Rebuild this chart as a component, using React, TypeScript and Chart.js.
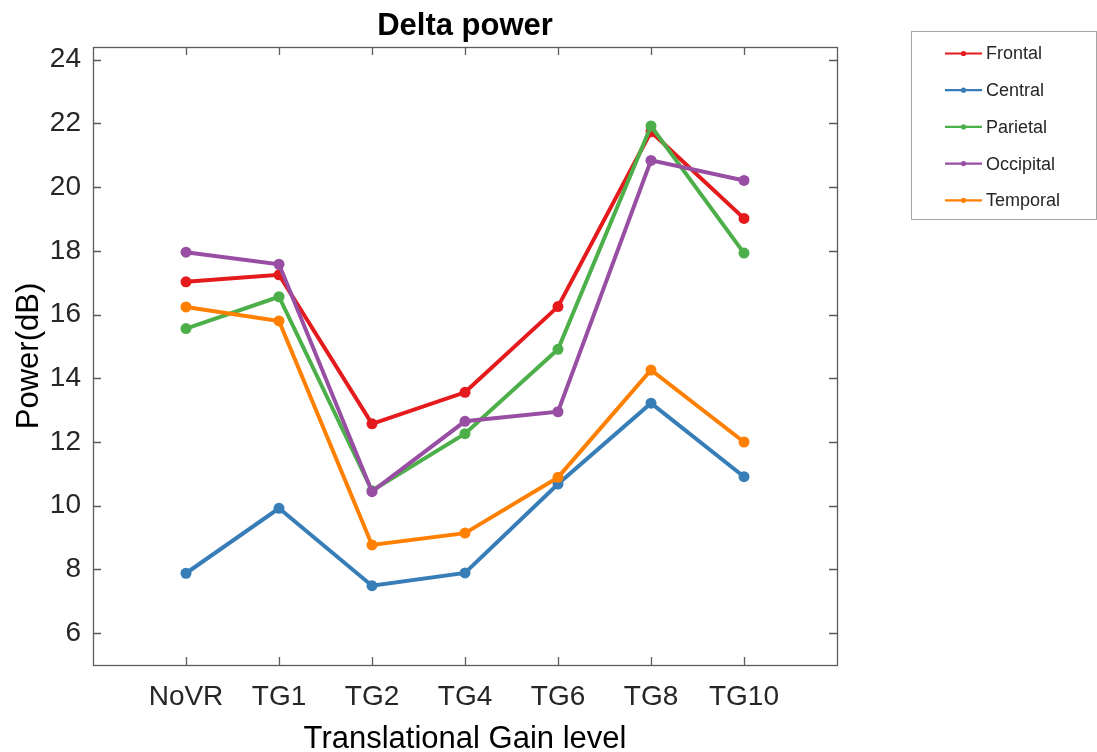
import { useEffect, useRef } from 'react';
import { Chart, registerables } from 'chart.js';

Chart.register(...registerables);

// Gain conditions along the x axis
const gainLevels = ['NoVR', 'TG1', 'TG2', 'TG4', 'TG6', 'TG8', 'TG10'];

// Mean delta-band power (dB) per scalp region
const frontal = [17.03, 17.25, 12.57, 13.56, 16.25, 21.74, 19.02];
const central = [7.88, 9.92, 7.49, 7.89, 10.68, 13.22, 10.91];
const parietal = [15.56, 16.56, 10.47, 12.26, 14.91, 21.92, 17.93];
const occipital = [17.96, 17.58, 10.44, 12.65, 12.95, 20.84, 20.21];
const temporal = [16.24, 15.8, 8.77, 9.14, 10.89, 14.26, 12.0];

const regionNames = ['Frontal', 'Central', 'Parietal', 'Occipital', 'Temporal'];
const regionSeries = [frontal, central, parietal, occipital, temporal];
const regionColors = ['#E41A1C', '#377EB8', '#4DAF4A', '#984EA3', '#FF7F00'];

const yTicks = [6, 8, 10, 12, 14, 16, 18, 20, 22, 24];

const FONT = '"Liberation Sans", Arial, Helvetica, sans-serif';
const TEXT = '#262626';
const AXIS = '#5c5c5c';

// Boxed axes with inward ticks on all four sides, title and legend panel
const matlabFrame = {
  id: 'matlabFrame',
  afterDraw(chart: any) {
    const { ctx, chartArea: a, scales } = chart;
    const xs = scales.x;
    const ys = scales.y;
    const tick = 8;
    ctx.save();
    ctx.strokeStyle = AXIS;
    ctx.lineWidth = 1.3;
    ctx.strokeRect(a.left + 0.5, a.top + 0.5, a.right - a.left, a.bottom - a.top);
    ctx.beginPath();
    gainLevels.forEach((_, i) => {
      const px = Math.round(xs.getPixelForValue(i)) + 0.5;
      ctx.moveTo(px, a.bottom);
      ctx.lineTo(px, a.bottom - tick);
      ctx.moveTo(px, a.top);
      ctx.lineTo(px, a.top + tick);
    });
    yTicks.forEach((v) => {
      const py = Math.round(ys.getPixelForValue(v)) + 0.5;
      ctx.moveTo(a.left, py);
      ctx.lineTo(a.left + tick, py);
      ctx.moveTo(a.right, py);
      ctx.lineTo(a.right - tick, py);
    });
    ctx.stroke();

    // Title
    ctx.fillStyle = '#000';
    ctx.font = `bold 31px ${FONT}`;
    ctx.textAlign = 'center';
    ctx.textBaseline = 'alphabetic';
    ctx.fillText('Delta power', (a.left + a.right) / 2, 35);

    // Legend panel
    const lx = 911.5;
    const ly = 31.5;
    ctx.strokeStyle = '#a6a6a6';
    ctx.lineWidth = 1;
    ctx.fillStyle = '#fff';
    ctx.fillRect(lx, ly, 185, 188);
    ctx.strokeRect(lx, ly, 185, 188);
    ctx.font = `18px ${FONT}`;
    ctx.textAlign = 'left';
    ctx.textBaseline = 'middle';
    regionNames.forEach((name, i) => {
      const ry = 53.5 + i * 36.7;
      ctx.strokeStyle = regionColors[i];
      ctx.lineWidth = 2.2;
      ctx.beginPath();
      ctx.moveTo(945, ry);
      ctx.lineTo(982, ry);
      ctx.stroke();
      ctx.fillStyle = regionColors[i];
      ctx.beginPath();
      ctx.arc(963.5, ry, 2.6, 0, Math.PI * 2);
      ctx.fill();
      ctx.fillStyle = TEXT;
      ctx.fillText(name, 986, ry + 1);
    });
    ctx.restore();
  },
};

export default function App() {
  const canvasRef = useRef<HTMLCanvasElement | null>(null);

  useEffect(() => {
    const canvas = canvasRef.current;
    if (!canvas) return;
    const chart = new Chart(canvas, {
      type: 'line',
      data: {
        datasets: regionNames.map((name, k) => ({
          label: name,
          data: regionSeries[k].map((v, i) => ({ x: i, y: v })),
          borderColor: regionColors[k],
          backgroundColor: regionColors[k],
          pointBackgroundColor: regionColors[k],
          pointBorderWidth: 0,
          pointRadius: 5.5,
          borderWidth: 4,
          tension: 0,
          fill: false,
          order: regionNames.length - k,
        })),
      },
      options: {
        responsive: false,
        animation: false,
        devicePixelRatio: 1,
        layout: { padding: { left: 0, top: 47, right: 260, bottom: 0 } },
        plugins: {
          legend: { display: false },
          title: { display: false },
          tooltip: { enabled: false },
        },
        scales: {
          x: {
            type: 'linear',
            min: -1,
            max: 7,
            grid: { display: false, drawTicks: false },
            border: { display: false },
            afterBuildTicks: (scale: any) => {
              scale.ticks = gainLevels.map((_, i) => ({ value: i }));
            },
            afterFit: (scale: any) => {
              scale.height = 87;
            },
            ticks: {
              autoSkip: false,
              maxRotation: 0,
              padding: 18,
              color: TEXT,
              font: { family: FONT, size: 28, lineHeight: 1 },
              callback: (v: any) => gainLevels[Number(v)] ?? '',
            },
            title: {
              display: true,
              text: 'Translational Gain level',
              color: '#000',
              font: { family: FONT, size: 31, lineHeight: 1 },
              padding: { top: 0, bottom: -3 },
            },
          },
          y: {
            type: 'linear',
            min: 5,
            max: 24.4,
            grid: { display: false, drawTicks: false },
            border: { display: false },
            afterBuildTicks: (scale: any) => {
              scale.ticks = yTicks.map((v) => ({ value: v }));
            },
            afterFit: (scale: any) => {
              scale.width = 93;
            },
            ticks: {
              padding: 12,
              color: TEXT,
              font: { family: FONT, size: 28, lineHeight: 1 },
            },
            title: {
              display: true,
              text: 'Power(dB)',
              color: '#000',
              font: { family: FONT, size: 31, lineHeight: 1 },
              padding: { top: 13.5, bottom: 0 },
            },
          },
        },
      },
      plugins: [matlabFrame],
    });
    return () => chart.destroy();
  }, []);

  return (
    <div style={{ position: 'fixed', left: 0, top: 0, width: 1097, height: 752, background: '#fff' }}>
      <canvas ref={canvasRef} width={1097} height={752} />
    </div>
  );
}
